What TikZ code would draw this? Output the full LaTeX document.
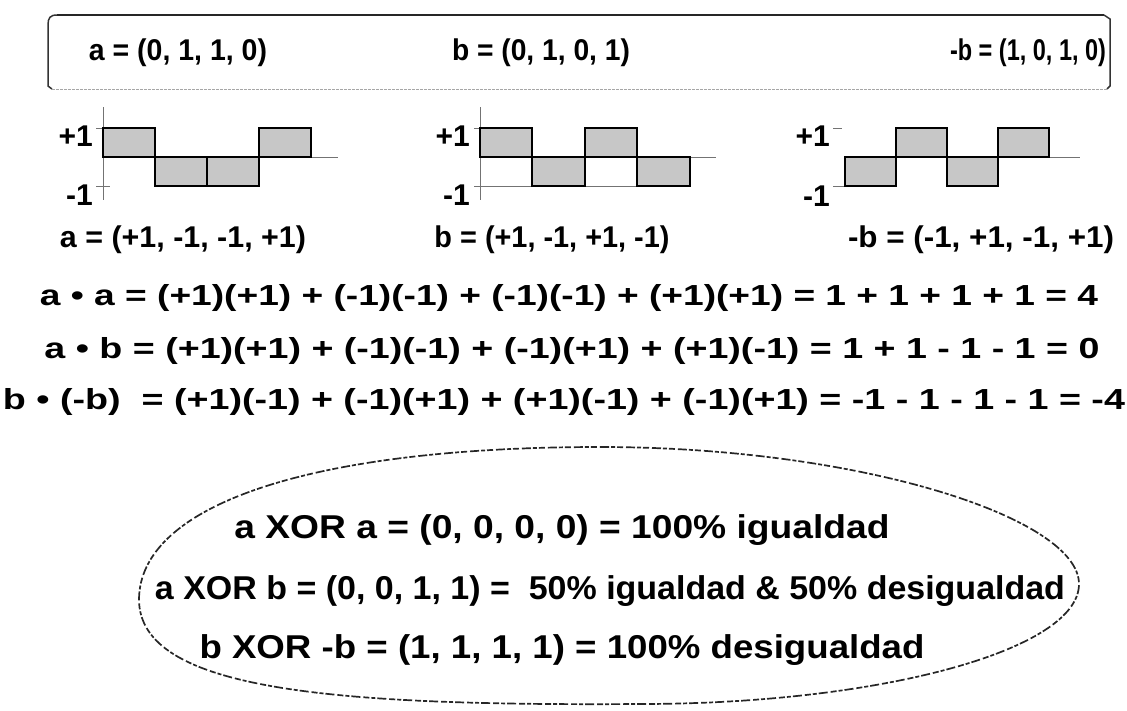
\documentclass[tikz,border=0pt]{standalone}
\usepackage{fontspec}
\setmainfont{Liberation Sans}
\usepackage{graphicx}
\newcommand{\fitw}[2]{\resizebox{#1pt}{\height}{#2}}
\tikzset{
  lbl/.style={font=\bfseries\fontsize{30}{32}\selectfont, inner sep=0pt},
  eqn/.style={font=\bfseries\fontsize{29}{31}\selectfont, inner sep=0pt},
  xr/.style={font=\bfseries\fontsize{33}{35}\selectfont, inner sep=0pt},
  pulse/.style={draw=black, line width=2.2pt, fill=black!22},
  axisline/.style={draw=black!55, line width=0.8pt},
  lvl/.style={font=\bfseries\fontsize{30}{32}\selectfont, inner sep=0pt, anchor=east},
  frametop/.style={draw=black!85, line width=2.6pt},
  frameside/.style={draw=black!80, line width=1.5pt},
  framebot/.style={draw=black!35, line width=1pt, dash pattern=on 3pt off 1pt},
  ell/.style={draw=black!85, line width=1.7pt, dash pattern=on 9pt off 2pt on 4pt off 2pt on 6pt off 3pt},
}
\begin{document}
\begin{tikzpicture}[x=1pt,y=-1pt]
\useasboundingbox (0,0) rectangle (1127,710);
% frame
\draw[frametop] (57,15) -- (1104,15);
\draw[frameside] (57,15) .. controls (50,15) and (48,18) .. (48,25) -- (48,86) -- (52,89);
\draw[frameside] (1104,15) -- (1110,19) -- (1110,86) -- (1107,89);
\draw[framebot] (52,89) -- (1107,89);
% top row
\node[lbl] (ta) at (178,53) {\fitw{178}{a = (0, 1, 1, 0)}};
\node[lbl] (tb) at (541,53) {\fitw{178}{b = (0, 1, 0, 1)}};
\node[lbl] (tnb) at (1028,53) {\fitw{156}{-b = (1, 0, 1, 0)}};
% waveform a
\draw[axisline] (103,107) -- (103,200);
\draw[axisline] (103,157) -- (338,157);
\draw[axisline] (96,128) -- (110,128);
\draw[axisline] (96,186) -- (110,186);
\draw[pulse] (103,128) rectangle (155,157);
\draw[pulse] (155,157) rectangle (207,186);
\draw[pulse] (207,157) rectangle (259,186);
\draw[pulse] (259,128) rectangle (311,157);
\node[lvl] (ap) at (93,136) {+1};
\node[lvl] (am) at (93,195) {-1};
% waveform b
\draw[axisline] (480,107) -- (480,200);
\draw[axisline] (480,157) -- (716,157);
\draw[axisline] (474,128) -- (486,128);
\draw[axisline] (474,186) -- (690,186);
\draw[pulse] (480,128) rectangle (532,157);
\draw[pulse] (532,157) rectangle (585,186);
\draw[pulse] (585,128) rectangle (637,157);
\draw[pulse] (637,157) rectangle (690,186);
\node[lvl] (bp) at (470,136) {+1};
\node[lvl] (bm) at (470,195) {-1};
% waveform -b
\draw[axisline] (845,157) -- (1080,157);
\draw[axisline] (833,128) -- (842,128);
\draw[axisline] (833,186) -- (845,186);
\draw[pulse] (845,157) rectangle (896,186);
\draw[pulse] (896,128) rectangle (947,157);
\draw[pulse] (947,157) rectangle (998,186);
\draw[pulse] (998,128) rectangle (1049,157);
\node[lvl] (np) at (830,136) {+1};
\node[lvl] (nm) at (830,196) {-1};
% row labels
\node[lbl] (ra) at (183,240) {\fitw{246}{a = (+1, -1, -1, +1)}};
\node[lbl] (rb) at (552,240) {\fitw{235}{b = (+1, -1, +1, -1)}};
\node[lbl] (rnb) at (981,240) {\fitw{266}{-b = (-1, +1, -1, +1)}};
% equations
\node[eqn] (e1) at (569,298) {\fitw{1058}{a • a = (+1)(+1) + (-1)(-1) + (-1)(-1) + (+1)(+1) = 1 + 1 + 1 + 1 = 4}};
\node[eqn] (e2) at (572,351) {\fitw{1055}{a • b = (+1)(+1) + (-1)(-1) + (-1)(+1) + (+1)(-1) = 1 + 1 - 1 - 1 = 0}};
\node[eqn] (e3) at (564,402) {\fitw{1122}{b • (-b) \ = (+1)(-1) + (-1)(+1) + (+1)(-1) + (-1)(+1) = -1 - 1 - 1 - 1 = -4}};
% ellipse
\draw[ell] (600,447) .. controls (860,447) and (1079,518) .. (1079,584)
  .. controls (1079,650) and (880,704) .. (640,704)
  .. controls (330,706) and (140,690) .. (139,600)
  .. controls (139,505) and (310,447) .. (600,447) -- cycle;
\node[xr] (x1) at (562,530) {\fitw{655}{a XOR a = (0, 0, 0, 0) = 100\% igualdad}};
\node[xr] (x2) at (610,591) {\fitw{910}{a XOR b = (0, 0, 1, 1) = \ 50\% igualdad \& 50\% desigualdad}};
\node[xr] (x3) at (562,650) {\fitw{725}{b XOR -b = (1, 1, 1, 1) = 100\% desigualdad}};
\end{tikzpicture}
\end{document}
